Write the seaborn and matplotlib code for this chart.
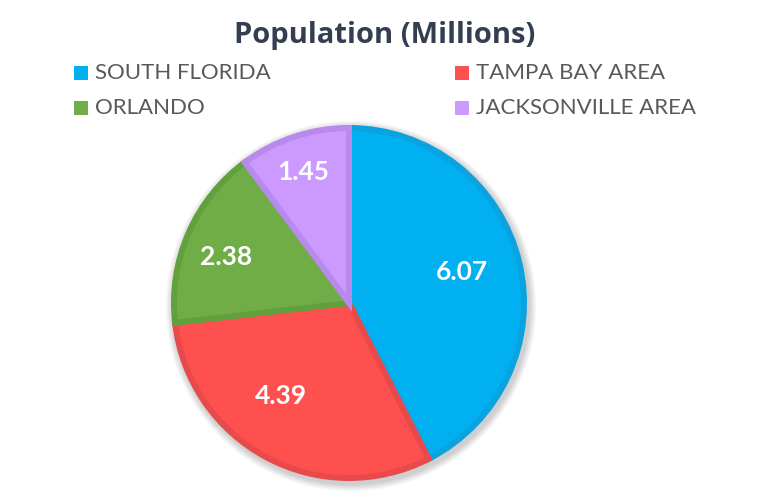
import matplotlib
matplotlib.use("Agg")
import numpy as np
import matplotlib.pyplot as plt
from matplotlib.patches import Circle
import seaborn as sns

# data
regions = ["SOUTH FLORIDA", "TAMPA BAY AREA", "ORLANDO", "JACKSONVILLE AREA"]
population = [6.07, 4.39, 2.38, 1.45]
fill_colors = ["#00B0F0", "#FF5050", "#70AD47", "#CC99FF"]
edge_colors = ["#0AA2DF", "#E84A4C", "#62A03D", "#B98AEE"]
title = "Population (Millions)"

# label placement (fraction of radius, angular nudge in degrees)
label_dist = [0.66, 0.65, 0.74, 0.78]
label_nudge = [2, -8, 3, 1]

sns.set_theme(style="white")
plt.rcParams["font.family"] = ["Lato", "DejaVu Sans"]

W, H = 770, 504
fig = plt.figure(figsize=(W / 100, H / 100), dpi=100)
ax = fig.add_axes([0, 0, 1, 1])

cx, cy, r_out = 349, H - 303, 178
lw_px = 6

# soft shadow behind the pie
for i in range(8):
    ax.add_patch(Circle((cx + 2, cy - 3), r_out + 1 + i * 0.9,
                        color="black", alpha=0.025, lw=0, zorder=0))

total = sum(population)
wedges, texts, autotexts = ax.pie(
    population,
    colors=fill_colors,
    startangle=90,
    counterclock=False,
    center=(cx, cy),
    radius=r_out - lw_px / 2,
    autopct=lambda p: f"{p * total / 100:.2f}",
    pctdistance=0.66,
    wedgeprops=dict(linewidth=lw_px * 72 / 100, joinstyle="miter"),
    textprops=dict(color="white", fontsize=19, fontweight="bold"),
)
for w, ec, t, d, nudge in zip(wedges, edge_colors, autotexts, label_dist, label_nudge):
    w.set_edgecolor(ec)
    w.set_zorder(2)
    ang = np.deg2rad((w.theta1 + w.theta2) / 2 + nudge)
    t.set_position((cx + d * r_out * np.cos(ang), cy + d * r_out * np.sin(ang)))
    t.set_zorder(3)

ax.set_xlim(0, W)
ax.set_ylim(0, H)
ax.set_aspect("equal")
ax.axis("off")

# title
fig.text(0.5, 1 - 36 / H, title, ha="center", va="center",
         fontsize=21, fontweight="bold", color="#333F50",
         family=["Open Sans", "DejaVu Sans"])

# legend, two columns
col_x = [74, 455]
row_y = [73, 108]
for i, (name, col) in enumerate(zip(regions, fill_colors)):
    x0 = col_x[i % 2]
    y0 = H - row_y[i // 2]
    ax.scatter([x0 + 7], [y0], marker="s", s=110, color=col, lw=0)
    ax.text(x0 + 21, y0, name, ha="left", va="center",
            fontsize=16, color="#595959")

fig.savefig("out.png", dpi=100, facecolor="white")
